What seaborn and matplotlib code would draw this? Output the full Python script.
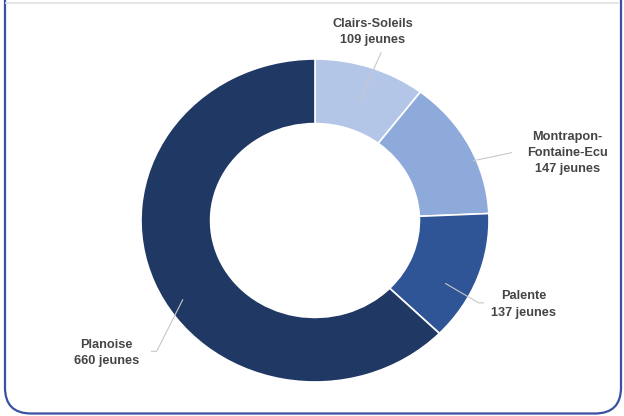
import matplotlib
matplotlib.use("Agg")
import matplotlib.pyplot as plt
import seaborn as sns
from matplotlib.patches import FancyBboxPatch

# Data
quartiers = ["Clairs-Soleils", "Montrapon-\nFontaine-Ecu", "Palente", "Planoise"]
jeunes = [109, 147, 137, 660]
couleurs = ["#b4c6e7", "#8eaadb", "#2f5597", "#203864"]

# label text positions (data coords) and leader line points
text_pos = [(0.33, 1.17), (1.45, 0.42), (1.20, -0.52), (-1.20, -0.82)]
line_pts = [
    [(0.26, 0.75), (0.38, 1.04)],
    [(0.91, 0.37), (1.13, 0.42)],
    [(0.75, -0.39), (0.94, -0.51), (0.97, -0.51)],
    [(-0.76, -0.49), (-0.91, -0.81), (-0.94, -0.81)],
]

sns.set_theme(style="white")
plt.rcParams['font.family'] = ['Liberation Sans', 'DejaVu Sans']

fig = plt.figure(figsize=(6.24, 4.16), dpi=100)
fig.patch.set_facecolor("white")

# rounded frame (inches), top edge cut off by the crop
frame = FancyBboxPatch((0.05, 0.025), 6.16, 4.6,
                       boxstyle="round,pad=0,rounding_size=0.26",
                       transform=fig.dpi_scale_trans, facecolor="none",
                       edgecolor="#3a51a3", linewidth=1.6, zorder=0)
fig.patches.append(frame)
fig.add_artist(plt.Line2D([6 / 624, 619 / 624], [413 / 416, 413 / 416],
                          transform=fig.transFigure, color="#e6e6e6", lw=1.5))

ax = fig.add_axes([141 / 624, 34 / 416, 348 / 624, 323 / 416])
ax.pie(jeunes, colors=couleurs, startangle=90, counterclock=False,
       wedgeprops=dict(width=0.4, edgecolor="white", linewidth=1.2),
       radius=1.0)
ax.set_aspect("auto")
ax.set_xlim(-1, 1)
ax.set_ylim(-1, 1)
ax.axis("off")

for nom, n, tp, pts in zip(quartiers, jeunes, text_pos, line_pts):
    xs, ys = zip(*pts)
    ax.plot(xs, ys, color="#c8c8c8", lw=0.8, clip_on=False)
    ax.text(tp[0], tp[1], f"{nom}\n{n} jeunes", ha="center", va="center",
            fontsize=9.2, fontweight="bold", color="#454545",
            linespacing=1.45, clip_on=False)

fig.savefig("out.png", dpi=100, facecolor="white")
